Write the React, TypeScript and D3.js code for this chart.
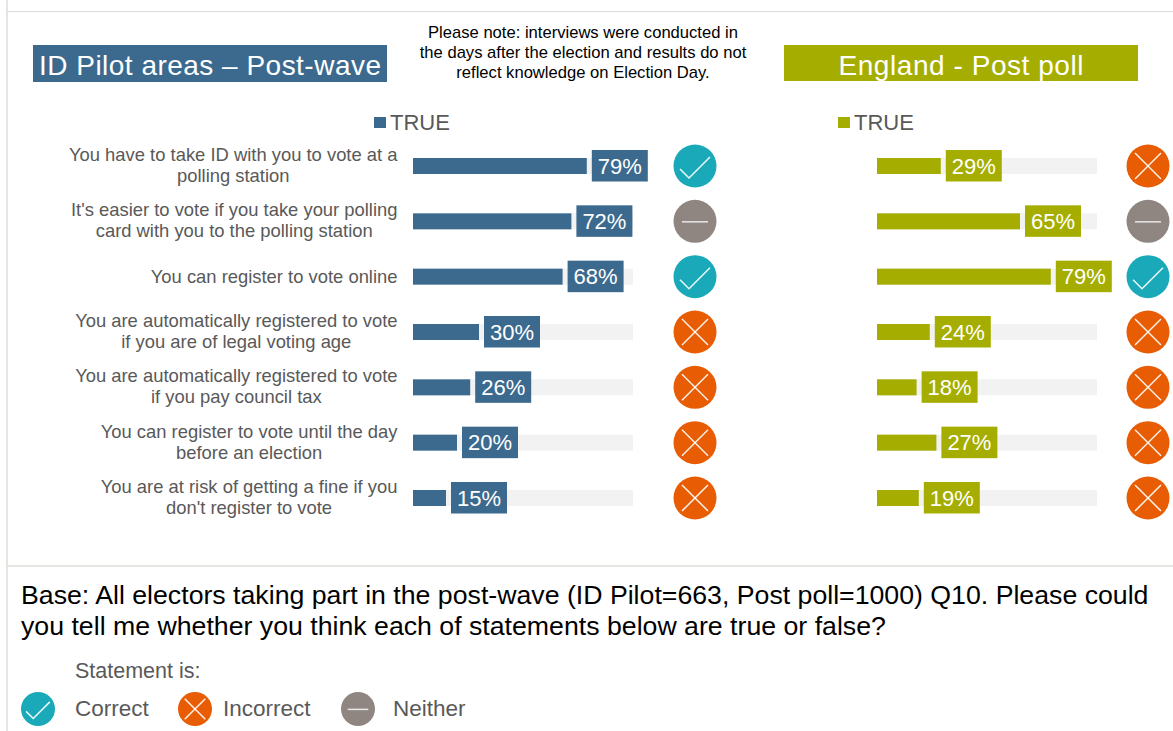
import React from "react";
import * as d3 from "d3";

const statements = [
  ["You have to take ID with you to vote at a", "polling station"],
  ["It's easier to vote if you take your polling", "card with you to the polling station"],
  ["You can register to vote online"],
  ["You are automatically registered to vote", "if you are of legal voting age"],
  ["You are automatically registered to vote", "if you pay council tax"],
  ["You can register to vote until the day", "before an election"],
  ["You are at risk of getting a fine if you", "don't register to vote"],
];
const pilotValues = [79, 72, 68, 30, 26, 20, 15];
const pollValues = [29, 65, 79, 24, 18, 27, 19];
const pilotStatus = ["correct", "neither", "correct", "incorrect", "incorrect", "incorrect", "incorrect"];
const pollStatus = ["incorrect", "neither", "correct", "incorrect", "incorrect", "incorrect", "incorrect"];
const noteLines = [
  "Please note: interviews were conducted in",
  "the days after the election and results do not",
  "reflect knowledge on Election Day.",
];
const baseLines = [
  "Base: All electors taking part in the post-wave (ID Pilot=663, Post poll=1000) Q10. Please could",
  "you tell me whether you think each of statements below are true or false?",
];

const FONT = "'Liberation Sans', Arial, sans-serif";
const BLUE = "#3c6a8f";
const GREEN = "#a5ae00";
const TEAL = "#1aa9b8";
const ORANGE = "#e85d04";
const GREY = "#8f8681";
const TRACK = "#f2f2f2";
const TEXT = "#595959";
const RULE = "#dfdcd8";

const width = 1173;
const height = 731;
const yScale = d3.scalePoint<number>().domain(d3.range(7)).range([166, 498]);

const measure = (() => {
  const ctx = document.createElement("canvas").getContext("2d")!;
  return (s: string, size: number) => {
    ctx.font = `${size}px 'Liberation Sans'`;
    return ctx.measureText(s).width;
  };
})();

function Icon({ kind, cx, cy, r }: { kind: string; cx: number; cy: number; r: number }) {
  const fill = kind === "correct" ? TEAL : kind === "incorrect" ? ORANGE : GREY;
  const k = r / 21.5;
  const line = d3.line();
  let paths: [number, number][][] = [];
  if (kind === "correct") paths = [[[-15, 3], [-6, 12], [15, -9]]];
  else if (kind === "incorrect") paths = [[[-13, -13], [13, 13]], [[-13, 13], [13, -13]]];
  else paths = [[[-13, 0.5], [13, 0.5]]];
  return (
    <g transform={`translate(${cx},${cy})`}>
      <circle r={r} fill={fill} />
      {paths.map((p, i) => (
        <path
          key={i}
          d={line(p.map(([x, y]) => [x * k, y * k] as [number, number]))!}
          fill="none"
          stroke="#fff"
          strokeOpacity={kind === "neither" ? 0.8 : 0.92}
          strokeWidth={1.5}
        />
      ))}
    </g>
  );
}

function Panel({ x0, values, status, color, iconX, legendX }: {
  x0: number; values: number[]; status: string[]; color: string; iconX: number; legendX: number;
}) {
  const x = d3.scaleLinear().domain([0, 100]).range([x0, x0 + 220]);
  return (
    <g>
      <rect x={legendX} y={117} width={12} height={11} fill={color} />
      <text x={legendX + 16} y={130} fontSize={22} fill={TEXT}>TRUE</text>
      {values.map((v, i) => {
        const y = yScale(i)!;
        return (
          <g key={i}>
            <rect x={x(0)} y={y - 8} width={x(100) - x(0)} height={16} fill={TRACK} />
            <rect x={x(0)} y={y - 8} width={x(v) - x(0)} height={16} fill={color} />
            <rect x={x(v) + 5} y={y - 16} width={56} height={31.5} fill={color} />
            <text x={x(v) + 33} y={y + 7.5} fontSize={22} fill="#fff" textAnchor="middle">{v}%</text>
            <Icon kind={status[i]} cx={iconX} cy={y} r={21.5} />
          </g>
        );
      })}
    </g>
  );
}

export default function App() {
  return (
    <svg
      width={width}
      height={height}
      viewBox={`0 0 ${width} ${height}`}
      style={{ position: "absolute", left: 0, top: 0, display: "block", background: "#fff" }}
      fontFamily={FONT}
    >
      <line x1={7} x2={width} y1={11.5} y2={11.5} stroke={RULE} strokeWidth={1} />
      <line x1={7} x2={7} y1={0} y2={height} stroke={RULE} strokeWidth={1.5} />
      <line x1={7} x2={width} y1={566} y2={566} stroke={RULE} strokeWidth={1.5} />

      <rect x={33} y={45} width={354} height={37} fill={BLUE} />
      <text x={210} y={75} fontSize={28} fill="#fff" textAnchor="middle" textLength={342} lengthAdjust="spacing">ID Pilot areas – Post-wave</text>
      <rect x={784} y={45} width={354} height={36} fill={GREEN} />
      <text x={961} y={75} fontSize={28} fill="#fff" textAnchor="middle" textLength={245} lengthAdjust="spacing">England - Post poll</text>

      {noteLines.map((t, i) => (
        <text key={i} x={583} y={38 + i * 20} fontSize={16.6} fill="#000" textAnchor="middle">{t}</text>
      ))}

      {statements.map((lines, i) => {
        const w = d3.max(lines, (l) => measure(l, 18.4))!;
        const cx = 397.5 - w / 2;
        const y = yScale(i)!;
        const first = lines.length === 2 ? y - 5 : y + 6;
        return lines.map((l, j) => (
          <text key={`${i}-${j}`} x={cx} y={first + j * 21} fontSize={18.4} fill={TEXT} textAnchor="middle">{l}</text>
        ));
      })}

      <Panel x0={413} values={pilotValues} status={pilotStatus} color={BLUE} iconX={695} legendX={374} />
      <Panel x0={877} values={pollValues} status={pollStatus} color={GREEN} iconX={1148} legendX={838} />

      {baseLines.map((t, i) => (
        <text key={i} x={21} y={604 + i * 31} fontSize={26.7} fill="#000">{t}</text>
      ))}
      <text x={75} y={678} fontSize={21.5} fill={TEXT}>Statement is:</text>
      <Icon kind="correct" cx={38} cy={709} r={17} />
      <text x={75} y={716} fontSize={22.5} fill={TEXT}>Correct</text>
      <Icon kind="incorrect" cx={195} cy={709} r={17} />
      <text x={223} y={716} fontSize={22.5} fill={TEXT}>Incorrect</text>
      <Icon kind="neither" cx={358} cy={709} r={17} />
      <text x={393} y={716} fontSize={22.5} fill={TEXT}>Neither</text>
    </svg>
  );
}
